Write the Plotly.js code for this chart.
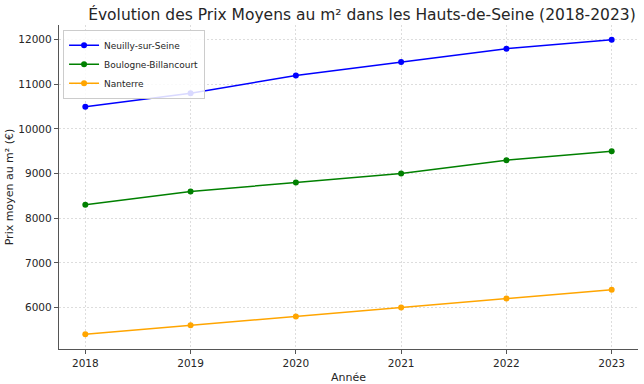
<!DOCTYPE html>
<html>
<head>
<meta charset="utf-8">
<script src="https://cdn.plot.ly/plotly-3.0.1.min.js"></script>
<style>html,body{margin:0;padding:0;background:#fff;}#chart{width:644px;height:384px;}</style>
</head>
<body>
<div id="chart"></div>
<script>
const years = [2018, 2019, 2020, 2021, 2022, 2023];
const neuilly = [10500, 10800, 11200, 11500, 11800, 12000];
const boulogne = [8300, 8600, 8800, 9000, 9300, 9500];
const nanterre = [5400, 5600, 5800, 6000, 6200, 6400];
const yTicks = [6000, 7000, 8000, 9000, 10000, 11000, 12000];
const seriesNames = ["Neuilly-sur-Seine", "Boulogne-Billancourt", "Nanterre"];
const seriesColors = ["#0000ff", "#008000", "#ffa500"];
const seriesValues = [neuilly, boulogne, nanterre];

const traces = seriesValues.map((vals, i) => ({
  x: years, y: vals, type: "scatter", mode: "lines+markers",
  name: seriesNames[i],
  line: {color: seriesColors[i], width: 1.5},
  marker: {color: seriesColors[i], size: 6}
}));

const layout = {
  width: 644, height: 384,
  margin: {l: 59, r: 6, t: 25, b: 35},
  paper_bgcolor: "#fff", plot_bgcolor: "#fff",
  font: {family: "DejaVu Sans", color: "#262626", size: 11},
  title: {text: "Évolution des Prix Moyens au m² dans les Hauts-de-Seine (2018-2023)",
    font: {size: 15.5, color: "#262626"}, x: 0.562, xanchor: "center", y: 0.963, yanchor: "middle"},
  xaxis: {
    range: [2017.75, 2023.25], tickvals: years, ticktext: years.map(String),
    showgrid: true, gridcolor: "#d4d4d4", griddash: "2px,2px", gridwidth: 0.8,
    showline: true, linecolor: "#555", linewidth: 1.2,
    ticks: "outside", ticklen: 4, tickcolor: "#555",
    zeroline: false, tickfont: {size: 10.5},
    title: {text: "Année", font: {size: 11}}
  },
  yaxis: {
    range: [5070, 12330], tickvals: yTicks, ticktext: yTicks.map(String),
    showgrid: true, gridcolor: "#d4d4d4", griddash: "2px,2px", gridwidth: 0.8,
    showline: true, linecolor: "#555", linewidth: 1.2,
    ticks: "outside", ticklen: 4, tickcolor: "#555",
    zeroline: false, tickfont: {size: 10.5},
    title: {text: "Prix moyen au m² (€)", font: {size: 11}}
  },
  showlegend: true,
  legend: {x: 0.007, y: 0.985, xanchor: "left", yanchor: "top",
    bgcolor: "rgba(255,255,255,0.85)", bordercolor: "#cccccc", borderwidth: 1,
    font: {size: 9}, tracegroupgap: 0, itemwidth: 30}
};

Plotly.newPlot("chart", traces, layout, {displayModeBar: false, staticPlot: true});
</script>
</body>
</html>
